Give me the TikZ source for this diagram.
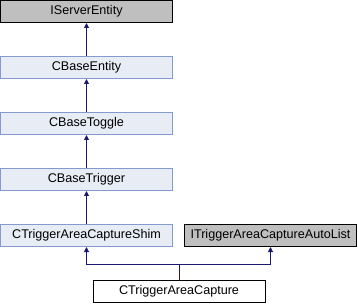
\documentclass[tikz,border=0pt]{standalone}
\usepackage{fontspec}
\setmainfont{Liberation Sans}
\usetikzlibrary{arrows.meta,positioning}
\definecolor{classfill}{RGB}{232,236,245}
\definecolor{classdraw}{RGB}{132,154,207}
\definecolor{extfill}{RGB}{191,191,191}
\definecolor{edgeblue}{RGB}{25,25,112}

\begin{document}
\begin{tikzpicture}[
  x=1pt, y=-1pt,
  cls/.style={draw=classdraw, fill=classfill, line width=1pt, minimum width=172pt, minimum height=22pt, inner sep=0pt, font=\fontsize{12.6}{14}\selectfont},
  ext/.style={cls, draw=black, fill=extfill},
  self/.style={cls, draw=black, fill=white},
  arrow/.style={-{Triangle[length=5pt,width=5pt]}, edgeblue, line width=1pt}
]
\useasboundingbox (0,0) rectangle (358,304);
% inheritance chain
\node[ext] (iserver) at (86.5,11.5) {IServerEntity};
\node[cls] (baseentity) at (86.5,67.5) {CBaseEntity};
\node[cls] (toggle) at (86.5,123.5) {CBaseToggle};
\node[cls] (trigger) at (86.5,179.5) {CBaseTrigger};
\node[cls] (shim) at (86.5,235.5) {CTriggerAreaCaptureShim};
\node[ext] (autolist) at (270.5,235.5) {ITriggerAreaCaptureAutoList};
\node[self] (capture) at (179,291.5) {CTriggerAreaCapture};
% edges
\draw[arrow] (baseentity.north) -- (iserver.south);
\draw[arrow] (toggle.north) -- (baseentity.south);
\draw[arrow] (trigger.north) -- (toggle.south);
\draw[arrow] (shim.north) -- (trigger.south);
\coordinate (bus) at (179,264);
\draw[arrow] (capture.north) -- (bus) -| (shim.south);
\draw[arrow] (capture.north) -- (bus) -| (autolist.south);
\end{tikzpicture}
\end{document}
